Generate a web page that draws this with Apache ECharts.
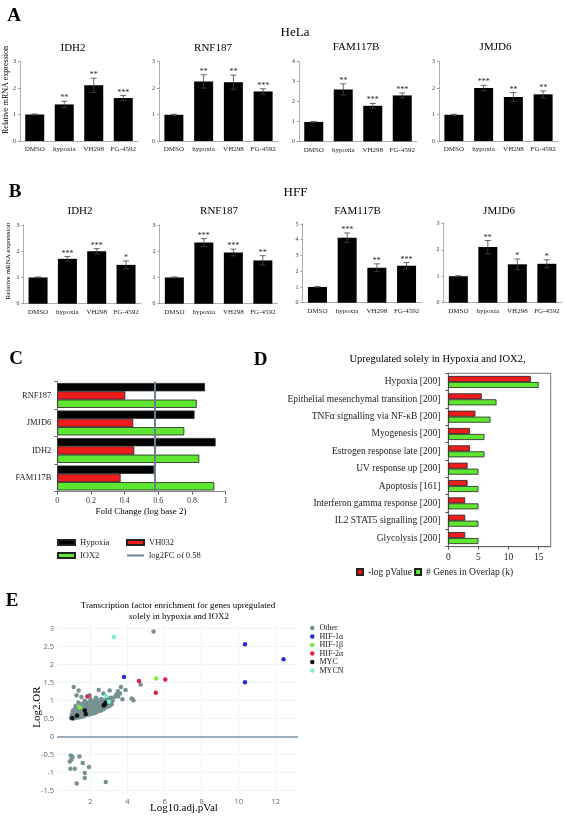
<!DOCTYPE html>
<html><head><meta charset="utf-8">
<script src="https://cdn.jsdelivr.net/npm/echarts@6/dist/echarts.min.js"></script>
<style>html,body{margin:0;padding:0;background:#fff}#c{width:567px;height:819px}</style>
</head><body><div id="c"></div>
<script>
// ---------- Data ----------
const groups = ['DMSO', 'hypoxia', 'VH298', 'FG-4592'];
const genesAB = ['IDH2', 'RNF187', 'FAM117B', 'JMJD6'];

const helaValues = [
  [1.0, 1.38, 2.1, 1.62],
  [0.99, 2.25, 2.22, 1.87],
  [0.97, 2.6, 1.78, 2.3],
  [0.99, 2.0, 1.66, 1.76]
];
const helaErrors = [
  [0.02, 0.12, 0.27, 0.1],
  [0.02, 0.25, 0.27, 0.1],
  [0.02, 0.28, 0.12, 0.12],
  [0.02, 0.1, 0.17, 0.13]
];
const helaSig = [
  ['', '**', '**', '***'],
  ['', '**', '**', '***'],
  ['', '**', '***', '***'],
  ['', '***', '**', '**']
];
const helaMax = [3, 3, 4, 3];

const hffValues = [
  [1.0, 1.71, 2.0, 1.48],
  [1.0, 2.33, 1.95, 1.65],
  [1.0, 4.13, 2.22, 2.35],
  [1.0, 2.1, 1.45, 1.47]
];
const hffErrors = [
  [0.02, 0.09, 0.1, 0.15],
  [0.02, 0.15, 0.13, 0.18],
  [0.03, 0.3, 0.25, 0.2],
  [0.02, 0.25, 0.2, 0.15]
];
const hffSig = [
  ['', '***', '***', '*'],
  ['', '***', '***', '**'],
  ['', '***', '**', '***'],
  ['', '**', '*', '*']
];
const hffMax = [3, 3, 5, 3];

const cGenes = ['FAM117B', 'IDH2', 'JMJD6', 'RNF187'];
const cHypoxia = [0.575, 0.94, 0.815, 0.877];
const cVH032 = [0.376, 0.457, 0.451, 0.404];
const cIOX2 = [0.932, 0.843, 0.754, 0.828];
const cThreshold = 0.58;

const dCategories = ['Glycolysis [200]', 'IL2 STAT5 signalling [200]', 'Interferon gamma response [200]',
  'Apoptosis [161]', 'UV response up [200]', 'Estrogen response late [200]', 'Myogenesis [200]',
  'TNFα signalling via NF-κB [200]', 'Epithelial mesenchymal transition [200]', 'Hypoxia [200]'];
const dLogP = [2.8, 2.8, 2.8, 3.2, 3.2, 3.6, 3.6, 4.5, 5.55, 13.7];
const dGenes = [5, 5, 5, 5, 5, 6, 6, 7, 8, 15];
const dTicks = [0, 5, 10, 15];

const eOther = [
  [0.95,0.52],[1.0,0.55],[1.05,0.5],[1.1,0.53],[1.15,0.56],[1.2,0.52],[1.25,0.55],[1.3,0.58],[1.35,0.53],[1.4,0.56],
  [1.45,0.6],[1.5,0.55],[1.55,0.58],[1.6,0.62],[1.65,0.57],[1.7,0.6],[1.75,0.64],[1.8,0.6],[1.85,0.63],[1.9,0.66],
  [1.95,0.62],[2.0,0.65],[2.05,0.68],[2.1,0.64],[2.15,0.67],[2.2,0.7],[2.25,0.66],[2.3,0.69],[2.35,0.72],[2.4,0.7],
  [2.45,0.73],[2.5,0.76],[2.55,0.72],[2.6,0.75],[2.65,0.78],[2.7,0.76],[2.75,0.8],[2.85,0.82],[2.95,0.84],[3.05,0.86],[3.15,0.9],
  [1.0,0.62],[1.1,0.65],[1.2,0.62],[1.25,0.68],[1.35,0.66],[1.45,0.7],[1.55,0.68],[1.6,0.74],[1.7,0.72],[1.8,0.76],
  [1.9,0.74],[2.0,0.78],[2.1,0.76],[2.2,0.8],[2.3,0.79],[2.4,0.83],[2.5,0.82],[2.6,0.86],[2.7,0.88],[2.8,0.9],[2.9,0.93],[3.0,0.96],
  [1.05,0.72],[1.15,0.76],[1.3,0.75],[1.4,0.8],[1.5,0.78],[1.65,0.82],[1.75,0.86],[1.85,0.84],[1.95,0.88],[2.05,0.86],
  [2.15,0.9],[2.25,0.88],[2.35,0.93],[2.45,0.92],[2.55,0.96],[2.65,0.98],[2.75,1.0],[2.85,1.02],[2.95,1.05],[3.1,1.08],
  [1.2,0.85],[1.45,0.9],[1.6,0.92],[1.8,0.95],[2.0,0.97],[2.2,1.0],[2.4,1.02],[2.6,1.05],[2.3,1.08],[2.0,1.05],[1.7,1.0],[1.35,0.95],
  [1.1,1.38],[1.37,1.28],[1.52,1.1],[1.96,1.15],[2.45,1.3],[3.04,1.28],[3.49,1.26],[3.65,1.38],[3.73,1.04],[4.23,1.06],
  [4.32,1.01],[4.71,1.45],[3.3,1.1],[3.5,1.12],[3.4,1.18],[3.2,1.0],[3.6,1.2],[5.41,2.92],[1.25,1.15],[2.7,1.2],[3.9,1.3],
  [0.94,-0.52],[1.03,-0.57],[0.98,-0.64],[0.89,-0.69],[1.0,-0.54],[1.41,-0.55],[1.59,-0.73],[0.92,-0.89],[1.16,-0.89],
  [1.7,-1.01],[1.7,-1.15],[1.93,-0.84],[1.26,-1.3],[2.83,-1.26]
];
const eHIF1a = [[10.34,2.57],[12.42,2.15],[10.34,1.51],[3.81,1.66]];
const eHIF1b = [[5.55,1.62],[1.43,0.81]];
const eHIF2a = [[4.62,1.55],[6.04,1.59],[5.53,1.22],[1.84,1.12]];
const eMYC = [[1.03,0.52],[1.28,0.59],[1.70,0.73],[1.75,0.63],[2.72,0.87],[2.83,0.94],[2.78,0.9]];
const eMYCN = [[3.26,2.77],[2.86,1.13],[3.0,0.97]];
const eXTicks = [2, 4, 6, 8, 10, 12];
const eYTicks = [-1.5, -1, -0.5, 0, 0.5, 1, 1.5, 2, 2.5, 3];

// ---------- Layout ----------
const SERIF = '"Liberation Serif", "Times New Roman", serif';
const gridsA = [[20, 61.5, 118, 79.5], [159, 61.5, 119, 79.5], [299, 61.5, 118, 79.8], [439, 61.5, 119, 79.5]];
const gridsB = [[23.4, 225, 117.3, 78.7], [159.6, 225, 118, 78.7], [302.6, 224, 118.8, 78.7], [443.6, 223.3, 118, 79.4]];

const grid = [], xAxis = [], yAxis = [], series = [];

function errSeries(gi, values, errs, sigs) {
  return {
    type: 'custom', xAxisIndex: gi, yAxisIndex: gi, z: 5, silent: true,
    data: values.map((v, i) => [i, v, errs[i]]),
    renderItem: function (params, api) {
      const i = api.value(0), v = api.value(1), e = api.value(2);
      const pt = api.coord([i, v + e]), pb = api.coord([i, v - e]);
      const x = pt[0], w = 3;
      const st = { stroke: '#444', lineWidth: 0.8 };
      return {
        type: 'group', children: [
          { type: 'line', shape: { x1: x, y1: pt[1], x2: x, y2: pb[1] }, style: st },
          { type: 'line', shape: { x1: x - w, y1: pt[1], x2: x + w, y2: pt[1] }, style: st },
          { type: 'line', shape: { x1: x - w, y1: pb[1], x2: x + w, y2: pb[1] }, style: st },
          { type: 'text', style: { text: sigs[params.dataIndex], x: x, y: pt[1] + 1, font: '8px ' + SERIF, textAlign: 'center', textVerticalAlign: 'bottom', fill: '#222' } }
        ]
      };
    }
  };
}

function addBarChart(g, values, errs, sigs, maxV) {
  const gi = grid.length;
  grid.push({ left: g[0], top: g[1], width: g[2], height: g[3], containLabel: false });
  xAxis.push({
    type: 'category', gridIndex: gi, data: groups,
    axisLine: { lineStyle: { color: '#999', width: 0.8 } },
    axisTick: { show: false },
    axisLabel: { fontFamily: SERIF, fontSize: 7, color: '#222', margin: 5, interval: 0 }
  });
  yAxis.push({
    type: 'value', gridIndex: gi, min: 0, max: maxV, interval: 1,
    axisLine: { show: true, lineStyle: { color: '#999', width: 0.8 } },
    axisTick: { show: true, length: 2, lineStyle: { color: '#999' } },
    axisLabel: { fontFamily: SERIF, fontSize: 6, color: '#333', margin: 4 },
    splitLine: { show: false }
  });
  series.push({ type: 'bar', xAxisIndex: gi, yAxisIndex: gi, data: values, barWidth: 19, itemStyle: { color: '#000' }, silent: true });
  series.push(errSeries(gi, values, errs, sigs));
}

for (let i = 0; i < 4; i++) addBarChart(gridsA[i], helaValues[i], helaErrors[i], helaSig[i], helaMax[i]);
for (let i = 0; i < 4; i++) addBarChart(gridsB[i], hffValues[i], hffErrors[i], hffSig[i], hffMax[i]);

// Panel C
const giC = grid.length;
grid.push({ left: 57.3, top: 381.7, width: 168.4, height: 110 });
xAxis.push({
  type: 'value', gridIndex: giC, min: 0, max: 1, interval: 0.2,
  axisLine: { show: true, lineStyle: { color: '#666', width: 0.8 } },
  axisTick: { show: true, length: 3, lineStyle: { color: '#666' } },
  axisLabel: { fontFamily: SERIF, fontSize: 8, color: '#333', margin: 5 },
  splitLine: { show: false }
});
yAxis.push({
  type: 'category', gridIndex: giC, data: cGenes,
  axisLine: { show: true, lineStyle: { color: '#666', width: 0.8 } },
  axisTick: { show: true, length: 3, lineStyle: { color: '#666' } },
  axisLabel: { fontFamily: SERIF, fontSize: 8.5, color: '#222', margin: 6 }
});
const cBarStyle = { borderColor: '#222', borderWidth: 0.8 };
series.push({ type: 'bar', name: 'Hypoxia', xAxisIndex: giC, yAxisIndex: giC, data: cHypoxia, barWidth: 8.3, barGap: '0%', itemStyle: Object.assign({ color: '#000' }, cBarStyle) });
series.push({ type: 'bar', name: 'VH032', xAxisIndex: giC, yAxisIndex: giC, data: cVH032, barWidth: 8.3, barGap: '0%', itemStyle: Object.assign({ color: '#ee1c1c' }, cBarStyle) });
series.push({ type: 'bar', name: 'IOX2', xAxisIndex: giC, yAxisIndex: giC, data: cIOX2, barWidth: 8.3, barGap: '0%', itemStyle: Object.assign({ color: '#5fe631' }, cBarStyle) });
series.push({
  type: 'line', name: 'log2FC of 0.58', xAxisIndex: giC, yAxisIndex: giC, data: [], symbol: 'none',
  lineStyle: { color: '#6c8190', width: 2 }, itemStyle: { color: '#6c8190' },
  markLine: { silent: true, symbol: 'none', label: { show: false }, lineStyle: { color: '#6c8190', width: 2, type: 'solid' }, data: [{ xAxis: cThreshold }] }
});

// Panel D
const giD = grid.length;
grid.push({ left: 448.3, top: 373.3, width: 102.4, height: 173.4, show: true, borderColor: '#555', borderWidth: 0.8, backgroundColor: 'transparent' });
xAxis.push({
  type: 'value', gridIndex: giD, min: 0, max: 17,
  axisLine: { show: true, lineStyle: { color: '#555', width: 0.8 } },
  axisTick: { show: true, length: 3, customValues: dTicks, lineStyle: { color: '#555' } },
  axisLabel: { fontFamily: SERIF, fontSize: 9.5, color: '#222', margin: 6, customValues: dTicks },
  splitLine: { show: false }
});
yAxis.push({
  type: 'category', gridIndex: giD, data: dCategories,
  axisLine: { show: true, lineStyle: { color: '#555', width: 0.8 } },
  axisTick: { show: true, length: 3, lineStyle: { color: '#555' } },
  axisLabel: { fontFamily: SERIF, fontSize: 9.5, color: '#222', margin: 8, interval: 0 }
});
series.push({ type: 'bar', name: '-log pValue', xAxisIndex: giD, yAxisIndex: giD, data: dLogP, barWidth: 6, barGap: '0%', itemStyle: { color: '#ee1c1c', borderColor: '#222', borderWidth: 0.8 } });
series.push({ type: 'bar', name: '# Genes in Overlap (k)', xAxisIndex: giD, yAxisIndex: giD, data: dGenes, barWidth: 6, barGap: '0%', itemStyle: { color: '#5fe631', borderColor: '#222', borderWidth: 0.8 } });

// Panel E
const giE = grid.length;
grid.push({ left: 57, top: 623.3, width: 241, height: 171 });
xAxis.push({
  type: 'value', gridIndex: giE, min: 0.2, max: 13.2,
  axisLine: { show: false }, axisTick: { show: false, customValues: eXTicks },
  axisLabel: { fontFamily: 'Open Sans', fontSize: 7.5, color: '#5b6570', margin: 4, customValues: eXTicks },
  splitLine: { show: true, lineStyle: { color: '#eef0f4', width: 0.8 } }
});
yAxis.push({
  type: 'value', gridIndex: giE, min: -1.6, max: 3.15,
  axisLine: { show: false }, axisTick: { show: false, customValues: eYTicks },
  axisLabel: { fontFamily: 'Open Sans', fontSize: 7.5, color: '#5b6570', margin: 3, customValues: eYTicks },
  splitLine: { show: true, lineStyle: { color: '#eef0f4', width: 0.8 } }
});
function scat(name, data, color) {
  return { type: 'scatter', name: name, xAxisIndex: giE, yAxisIndex: giE, data: data, symbolSize: 4.5, itemStyle: { color: color, opacity: 1 }, silent: true };
}
const sOther = scat('Other', eOther, '#769290');
sOther.markLine = { silent: true, symbol: 'none', label: { show: false }, lineStyle: { color: '#7f96a6', width: 1.5, type: 'solid' }, data: [{ yAxis: 0 }] };
series.push(sOther);
series.push(scat('HIF-1α', eHIF1a, '#2b2bd6'));
series.push(scat('HIF-1β', eHIF1b, '#7ced3c'));
series.push(scat('HIF-2α', eHIF2a, '#dc2448'));
series.push(scat('MYC', eMYC, '#111111'));
series.push(scat('MYCN', eMYCN, '#72f0d6'));

// ---------- Texts ----------
function txt(text, x, y, font, opt) {
  opt = opt || {};
  return {
    type: 'text', x: x, y: y, rotation: opt.rotation || 0, silent: true,
    style: { text: text, font: font, textAlign: opt.align || 'center', textVerticalAlign: 'middle', fill: opt.fill || '#000' }
  };
}
const letterFont = 'bold 19px ' + SERIF;
const graphic = [
  txt('A', 14, 16, letterFont), txt('B', 15, 192.5, letterFont), txt('C', 16, 359, letterFont),
  txt('D', 260.5, 360, letterFont), txt('E', 12, 601, letterFont),
  txt('HeLa', 295, 33, '13px ' + SERIF), txt('HFF', 295.5, 193, '13px ' + SERIF),
  txt('IDH2', 73, 48, '11px ' + SERIF), txt('RNF187', 213, 48, '11px ' + SERIF),
  txt('FAM117B', 356, 47, '11px ' + SERIF), txt('JMJD6', 495.5, 47, '11px ' + SERIF),
  txt('IDH2', 80, 211, '11px ' + SERIF), txt('RNF187', 219, 211, '11px ' + SERIF),
  txt('FAM117B', 357.5, 211, '11px ' + SERIF), txt('JMJD6', 499, 211, '11px ' + SERIF),
  txt('Relative mRNA expression', 6, 90, '8px ' + SERIF, { rotation: Math.PI / 2 }),
  txt('Relative mRNA expression', 8, 261, '7px ' + SERIF, { rotation: Math.PI / 2 }),
  txt('Fold Change (log base 2)', 141, 512, '9px ' + SERIF),
  txt('Upregulated solely in Hypoxia and IOX2,', 437.5, 359, '10.5px ' + SERIF),
  txt('Transcription factor enrichment for genes upregulated', 178, 606, '9px ' + SERIF),
  txt('solely in hypoxia and IOX2', 179, 617, '9px ' + SERIF),
  txt('Log10.adj.pVal', 184, 808, '11px ' + SERIF),
  txt('Log2.OR', 37, 707, '11px ' + SERIF, { rotation: Math.PI / 2 })
];

const legendText = { fontFamily: SERIF, fontSize: 8.5, color: '#222' };
const hiddenSymbol = { color: 'rgba(0,0,0,0)', borderColor: 'rgba(0,0,0,0)', borderWidth: 0, opacity: 0 };
const legend = [
  { left: 57, top: 538, padding: 0, orient: 'vertical', itemGap: 4, itemWidth: 17, itemHeight: 5, icon: 'rect', data: ['Hypoxia', 'IOX2'], textStyle: legendText, selectedMode: false },
  { left: 126, top: 538, padding: 0, orient: 'vertical', itemGap: 4, itemWidth: 17, itemHeight: 5,
    data: [{ name: 'VH032', icon: 'rect' }, { name: 'log2FC of 0.58', itemStyle: hiddenSymbol }], textStyle: legendText, selectedMode: false },
  { left: 356, top: 567, padding: 0, orient: 'horizontal', itemGap: 2, itemWidth: 6, itemHeight: 6, icon: 'rect', data: ['-log pValue', '# Genes in Overlap (k)'], textStyle: { fontFamily: SERIF, fontSize: 9.5, color: '#222' }, selectedMode: false },
  { left: 310, top: 624, padding: 0, orient: 'vertical', itemGap: 0.5, itemWidth: 4.5, itemHeight: 4.5, icon: 'circle', data: ['Other', 'HIF-1α', 'HIF-1β', 'HIF-2α', 'MYC', 'MYCN'], textStyle: { fontFamily: SERIF, fontSize: 8, color: '#222', lineHeight: 8 }, selectedMode: false }
];

const chart = echarts.init(document.getElementById('c'), null, { renderer: 'canvas' });
chart.setOption({ animation: false, backgroundColor: '#fff', grid, xAxis, yAxis, series, graphic, legend });
</script>
</body></html>
